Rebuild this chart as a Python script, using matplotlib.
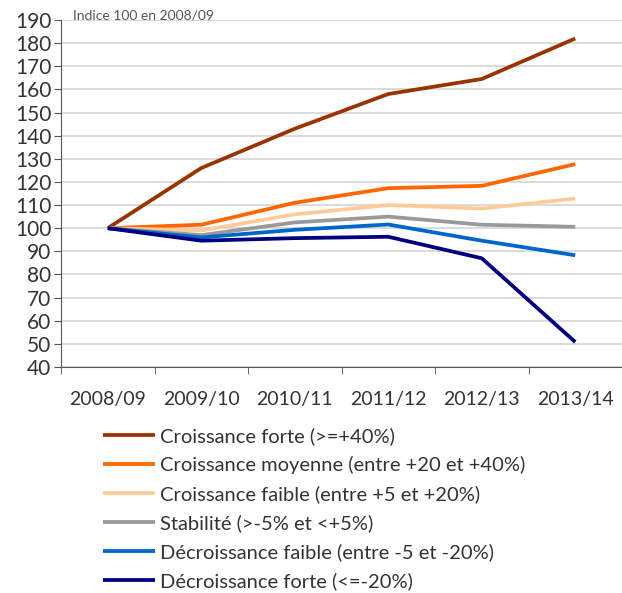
import matplotlib.pyplot as plt
import numpy as np

plt.rcParams['font.family'] = ['Lato', 'DejaVu Sans']

# data
years = ['2008/09', '2009/10', '2010/11', '2011/12', '2012/13', '2013/14']
forte = [100, 126, 143, 158, 164.5, 182]
moyenne = [100, 101.5, 111, 117.3, 118.3, 127.7]
faible = [100, 99, 106, 110, 108.5, 112.8]
stabilite = [100, 97, 102.5, 105, 101.5, 100.6]
decr_faible = [100, 96, 99.3, 101.6, 94.6, 88.3]
decr_forte = [100, 94.6, 95.7, 96.3, 87, 50.8]

labels = ['Croissance forte (>=+40%)',
          'Croissance moyenne (entre +20 et +40%)',
          'Croissance faible (entre +5 et +20%)',
          'Stabilité (>-5% et <+5%)',
          'Décroissance faible (entre -5 et -20%)',
          'Décroissance forte (<=-20%)']
colors = ['#993300', '#FF6600', '#FFCC99', '#999999', '#0066CC', '#000080']
series = [forte, moyenne, faible, stabilite, decr_faible, decr_forte]

fig = plt.figure(figsize=(6.22, 5.93), dpi=100)
ax = fig.add_axes([61/622, 1-367/593, 561/622, 347/593])

x = np.arange(len(years))
for s, c, l in zip(series, colors, labels):
    ax.plot(x, s, color=c, lw=2.7, label=l, solid_capstyle='butt')

ax.set_ylim(40, 190)
ax.set_yticks(range(40, 191, 10))
ax.set_xlim(-0.5, 5.5)
ax.set_xticks(x)
ax.set_xticklabels(years)
ax.set_xticks(np.arange(-0.5, 5.6, 1), minor=True)
ax.tick_params(axis='x', which='major', length=0, pad=17, labelsize=14, labelcolor='#333333')
ax.tick_params(axis='x', which='minor', length=5, color='#555555')
ax.tick_params(axis='y', length=5, color='#555555', labelsize=15, labelcolor='#333333', pad=2)
ax.grid(axis='y', color='#D4D4D4', lw=1.2)
ax.set_axisbelow(True)
for sp in ['top', 'right']:
    ax.spines[sp].set_visible(False)
for sp in ['left', 'bottom']:
    ax.spines[sp].set_color('#555555')

fig.text(73/622, 1-15/593, 'Indice 100 en 2008/09', fontsize=10, color='#555555', va='center')

fig.legend(loc='upper left', bbox_to_anchor=(103/622, 1-427/593), frameon=False,
           fontsize=14.5, handlelength=2.6, handletextpad=0.25, labelspacing=0.55,
           borderpad=0, borderaxespad=0, labelcolor='#333333')

fig.savefig('out.png', dpi=100)
